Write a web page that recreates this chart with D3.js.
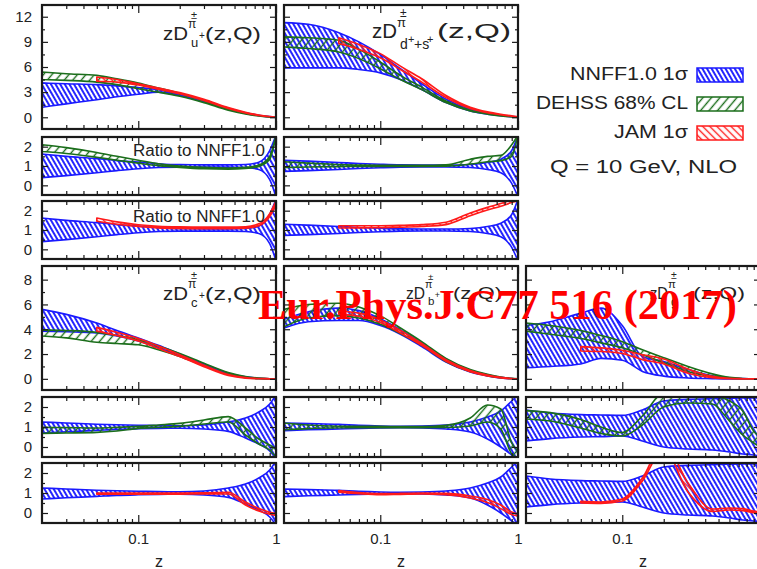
<!DOCTYPE html>
<html>
<head>
<meta charset="utf-8">
<script src="https://cdn.jsdelivr.net/npm/d3@7"></script>
<style>
  body { margin: 0; background: #fff; }
  svg { display: block; }
  text { font-family: "Liberation Sans", Arial, sans-serif; fill: #222; }
</style>
</head>
<body>
<svg id="chart" width="757" height="569"></svg>
<script>
// z grid shared by every band (JAM starts at z = 0.05, so null before)
const Z = [0.02, 0.03, 0.05, 0.07, 0.1, 0.14, 0.2, 0.3, 0.45, 0.6, 0.75, 0.9, 1.0];

// u+ : zD(z,Q)
const uNnffHi = [4.1, 4.0, 3.9, 3.75, 3.55, 3.3, 2.8, 2.05, 1.07, 0.55, 0.25, 0.08, 0];
const uNnffLo = [1.2, 1.6, 2.1, 2.45, 2.75, 3.0, 2.6, 1.85, 0.95, 0.45, 0.19, 0.04, 0];
const uDehssHi = [5.4, 5.2, 5.0, 4.6, 4.1, 3.5, 2.85, 2.0, 1.0, 0.5, 0.2, 0.05, 0];
const uDehssLo = [4.5, 4.4, 4.2, 3.9, 3.4, 3.0, 2.5, 1.75, 0.85, 0.4, 0.15, 0.02, 0];
const uJamHi = [null, null, 4.8, 4.5, 4.0, 3.5, 2.95, 2.15, 1.15, 0.6, 0.28, 0.1, 0.02];
const uJamLo = [null, null, 4.3, 4.2, 3.85, 3.35, 2.8, 2.0, 1.05, 0.52, 0.22, 0.06, 0];
// u+ ratios to NNFF1.0
const uRelHi = [1.62, 1.5, 1.38, 1.28, 1.2, 1.12, 1.07, 1.06, 1.06, 1.08, 1.2, 1.8, 2.6];
const uRelLo = [0.4, 0.5, 0.65, 0.76, 0.86, 0.92, 0.94, 0.94, 0.94, 0.92, 0.82, 0.3, -0.6];
const uDehssRelHi = [2.1, 1.95, 1.7, 1.5, 1.3, 1.12, 1.0, 0.93, 0.9, 0.93, 1.05, 1.5, 2.6];
const uDehssRelLo = [1.75, 1.65, 1.45, 1.3, 1.15, 1.02, 0.93, 0.86, 0.84, 0.87, 0.98, 1.35, 2.6];
const uJamRelHi = [null, null, 1.62, 1.42, 1.27, 1.19, 1.16, 1.15, 1.15, 1.17, 1.32, 1.85, 2.5];
const uJamRelLo = [null, null, 1.45, 1.3, 1.18, 1.11, 1.08, 1.07, 1.07, 1.09, 1.22, 1.7, 2.3];

// d+ + s+
const dsNnffHi = [11.3, 11.1, 10.1, 9.0, 7.5, 5.8, 4.0, 2.15, 0.95, 0.5, 0.25, 0.1, 0.03];
const dsNnffLo = [5.9, 5.9, 5.9, 5.7, 5.3, 4.5, 3.3, 1.75, 0.75, 0.38, 0.18, 0.06, 0.01];
const dsDehssHi = [9.6, 9.5, 9.2, 8.1, 6.6, 5.0, 3.6, 1.95, 0.85, 0.44, 0.2, 0.07, 0.02];
const dsDehssLo = [8.4, 8.2, 7.8, 7.0, 5.8, 4.5, 3.3, 1.75, 0.75, 0.38, 0.17, 0.05, 0.01];
const dsJamHi = [null, null, 9.5, 8.7, 7.6, 6.1, 4.6, 2.6, 1.2, 0.65, 0.36, 0.17, 0.06];
const dsJamLo = [null, null, 8.8, 8.1, 7.1, 5.7, 4.2, 2.35, 1.05, 0.55, 0.3, 0.13, 0.03];
const dsRelHi = [1.3, 1.25, 1.18, 1.13, 1.09, 1.06, 1.05, 1.05, 1.08, 1.18, 1.35, 1.8, 2.6];
const dsRelLo = [0.72, 0.76, 0.82, 0.87, 0.91, 0.94, 0.95, 0.95, 0.92, 0.82, 0.65, 0.1, -0.6];
const dsDehssRelHi = [1.22, 1.15, 1.08, 1.05, 1.04, 1.03, 1.03, 1.06, 1.35, 1.5, 1.55, 2.1, 2.6];
const dsDehssRelLo = [0.92, 0.95, 0.97, 0.98, 0.98, 0.98, 0.98, 0.99, 1.1, 1.22, 1.28, 1.5, 2.6];
const dsJamRelHi = [null, null, 1.22, 1.22, 1.22, 1.24, 1.28, 1.4, 1.88, 2.17, 2.37, 2.55, 2.6];
const dsJamRelLo = [null, null, 1.1, 1.11, 1.12, 1.14, 1.18, 1.28, 1.74, 2.03, 2.23, 2.42, 2.5];

// c+
const cNnffHi = [5.6, 5.2, 4.5, 3.9, 3.3, 2.7, 2.0, 1.2, 0.45, 0.16, 0.05, 0.01, 0];
const cNnffLo = [3.85, 3.8, 3.7, 3.45, 3.05, 2.5, 1.85, 1.08, 0.38, 0.12, 0.03, 0, 0];
const cDehssHi = [3.95, 3.9, 3.75, 3.5, 3.15, 2.65, 2.05, 1.25, 0.5, 0.18, 0.06, 0.01, 0];
const cDehssLo = [3.45, 3.3, 2.95, 2.85, 2.75, 2.35, 1.8, 1.05, 0.35, 0.1, 0.02, 0, 0];
const cJamHi = [null, null, 4.15, 3.75, 3.25, 2.65, 1.95, 1.1, 0.35, 0.1, 0.03, 0.01, 0];
const cJamLo = [null, null, 3.85, 3.5, 3.05, 2.45, 1.8, 0.98, 0.28, 0.06, 0.01, 0, 0];
const cRelHi = [1.25, 1.2, 1.14, 1.11, 1.09, 1.07, 1.06, 1.1, 1.25, 1.45, 1.75, 2.15, 2.6];
const cRelLo = [0.7, 0.76, 0.83, 0.88, 0.91, 0.93, 0.94, 0.9, 0.78, 0.45, 0.15, -0.2, -0.6];
const cDehssRelHi = [0.98, 0.97, 0.95, 0.98, 1.03, 1.1, 1.18, 1.35, 1.52, 0.95, 0.4, 0.1, -0.1];
const cDehssRelLo = [0.68, 0.7, 0.73, 0.8, 0.93, 0.98, 1.03, 1.15, 1.25, 0.6, 0.15, -0.15, -0.5];
const cJamRelHi = [null, null, 1.0, 1.0, 1.0, 1.0, 1.0, 1.01, 1.04, 0.55, 0.22, 0.04, -0.03];
const cJamRelLo = [null, null, 0.94, 0.94, 0.94, 0.94, 0.94, 0.95, 0.95, 0.4, 0.1, -0.06, -0.12];

// b+
const bNnffHi = [4.8, 5.4, 5.7, 5.5, 4.85, 3.95, 2.9, 1.6, 0.7, 0.33, 0.13, 0.03, 0];
const bNnffLo = [4.1, 4.6, 4.7, 4.7, 4.3, 3.6, 2.6, 1.35, 0.55, 0.24, 0.08, 0.01, 0];
const bDehssHi = [5.6, 6.0, 6.1, 5.8, 5.1, 4.1, 3.0, 1.65, 0.75, 0.36, 0.15, 0.04, 0];
const bDehssLo = [4.2, 4.9, 5.1, 4.9, 4.4, 3.65, 2.7, 1.4, 0.6, 0.26, 0.09, 0.01, 0];
const bJamHi = [null, null, 5.45, 5.3, 4.75, 3.9, 2.85, 1.55, 0.68, 0.3, 0.12, 0.03, 0];
const bJamLo = [null, null, 5.2, 5.05, 4.55, 3.7, 2.7, 1.42, 0.58, 0.24, 0.08, 0.01, 0];
const bRelHi = [1.2, 1.17, 1.13, 1.08, 1.05, 1.04, 1.05, 1.1, 1.25, 1.5, 1.8, 2.3, 2.6];
const bRelLo = [0.82, 0.86, 0.9, 0.93, 0.95, 0.96, 0.95, 0.9, 0.75, 0.4, 0.0, -0.4, -0.6];
const bDehssRelHi = [1.2, 1.1, 1.04, 1.03, 1.03, 1.02, 1.02, 1.08, 1.45, 2.1, 1.9, 0.2, -0.2];
const bDehssRelLo = [0.86, 0.92, 0.96, 0.97, 0.97, 0.97, 0.97, 0.98, 1.05, 1.25, 0.9, -0.35, -0.55];
const bJamRelHi = [null, null, 1.12, 1.02, 0.97, 0.98, 1.0, 0.98, 0.85, 0.68, 0.4, 0.05, -0.05];
const bJamRelLo = [null, null, 1.04, 0.96, 0.91, 0.93, 0.95, 0.92, 0.75, 0.52, 0.22, -0.08, -0.15];

// g
const gNnffHi = [4.3, 4.6, 5.3, 5.7, 4.3, 1.8, 1.4, 0.75, 0.25, 0.08, 0.02, 0, 0];
const gNnffLo = [0.9, 1.0, 1.2, 1.65, 1.5, 0.6, 0.22, 0.07, 0.02, 0, 0, 0, 0];
const gDehssHi = [4.5, 4.3, 3.9, 3.5, 3.0, 2.35, 1.7, 1.0, 0.4, 0.12, 0.03, 0, 0];
const gDehssLo = [3.85, 3.6, 3.25, 2.9, 2.5, 1.95, 1.3, 0.6, 0.2, 0.05, 0.01, 0, 0];
const gJamHi = [null, null, 2.6, 2.5, 2.3, 1.95, 1.6, 0.8, 0.2, 0.04, 0.01, 0, 0];
const gJamLo = [null, null, 2.25, 2.2, 2.05, 1.55, 1.2, 0.45, 0.1, 0.01, 0, 0, 0];
const gRelHi = [1.85, 1.7, 1.62, 1.6, 1.58, 1.85, 2.3, 2.38, 2.42, 2.44, 2.45, 2.45, 2.45];
const gRelLo = [0.3, 0.42, 0.5, 0.52, 0.55, 0.3, 0.0, -0.1, -0.15, -0.25, -0.35, -0.4, -0.45];
const gDehssRelHi = [1.82, 1.72, 1.38, 1.0, 0.72, 1.55, 2.7, 2.7, 2.6, 2.3, 1.8, 0.8, 0.5];
const gDehssRelLo = [1.4, 1.3, 0.95, 0.68, 0.55, 1.1, 2.0, 2.2, 2.15, 1.3, 0.6, 0.2, 0.0];
const gJamRelHi = [null, null, 0.58, 0.55, 0.7, 1.75, 3.5, 1.5, 0.2, 0.25, 0.22, 0.1, 0.05];
const gJamRelLo = [null, null, 0.5, 0.48, 0.6, 1.6, 3.2, 1.05, 0.08, 0.15, 0.12, 0.02, 0];

const legendLabels = ['NNFF1.0 1σ', 'DEHSS 68% CL', 'JAM 1σ'];
const infoLabel = 'Q = 10 GeV, NLO';
const ratioLabel = 'Ratio to NNFF1.0';
const watermark = 'Eur.Phys.J.C77 516 (2017)';

const xMajor = [0.1, 1];
const xMinor = [0.03, 0.04, 0.05, 0.06, 0.07, 0.08, 0.09, 0.2, 0.3, 0.4, 0.5, 0.6, 0.7, 0.8, 0.9];

// ---- layout ----
const W = 757;
const COLS = [[42, 276], [284, 518], [526, 760]];
const ROWS = { A: [5, 129], B: [137, 195], C: [201, 259], D: [266, 390], E: [397, 457], F: [463, 523] };
const YSPEC = {
  big: { domain: [-1.4, 13.4], major: [0, 3, 6, 9, 12], minor: [1.5, 4.5, 7.5, 10.5] },
  mid: { domain: [-0.9, 9.1], major: [0, 2, 4, 6, 8], minor: [1, 3, 5, 7] },
  ratio: { domain: [-0.5, 2.5], major: [0, 1, 2], minor: [0.5, 1.5] },
};

const INK = '#1a1a1a';
const STYLE = {
  nnff: { color: '#1a1aff', pat: 'hBlue' },
  dehss: { color: '#1b6e1b', pat: 'hGreen' },
  jam: { color: '#ff1a1a', pat: 'hRed' },
};

const svg = d3.select('#chart');
const defs = svg.append('defs');

function hatch(id, color, spacing, width, angle) {
  const p = defs.append('pattern')
    .attr('id', id)
    .attr('patternUnits', 'userSpaceOnUse')
    .attr('width', spacing)
    .attr('height', 10)
    .attr('patternTransform', `rotate(${angle})`);
  p.append('line')
    .attr('x1', spacing / 2).attr('x2', spacing / 2)
    .attr('y1', -1).attr('y2', 11)
    .attr('stroke', color)
    .attr('stroke-width', width);
}
hatch('hBlue', STYLE.nnff.color, 4, 1.9, -30);
hatch('hGreen', STYLE.dehss.color, 6.5, 1.4, 40);
hatch('hRed', STYLE.jam.color, 5, 1.4, -45);

const panels = [
  { col: 0, row: 'A', y: 'big', bands: [[uNnffLo, uNnffHi, 'nnff'], [uDehssLo, uDehssHi, 'dehss'], [uJamLo, uJamHi, 'jam']] },
  { col: 0, row: 'B', y: 'ratio', bands: [[uRelLo, uRelHi, 'nnff'], [uDehssRelLo, uDehssRelHi, 'dehss']] },
  { col: 0, row: 'C', y: 'ratio', bands: [[uRelLo, uRelHi, 'nnff'], [uJamRelLo, uJamRelHi, 'jam']] },
  { col: 1, row: 'A', y: 'big', bands: [[dsNnffLo, dsNnffHi, 'nnff'], [dsDehssLo, dsDehssHi, 'dehss'], [dsJamLo, dsJamHi, 'jam']] },
  { col: 1, row: 'B', y: 'ratio', bands: [[dsRelLo, dsRelHi, 'nnff'], [dsDehssRelLo, dsDehssRelHi, 'dehss']] },
  { col: 1, row: 'C', y: 'ratio', bands: [[dsRelLo, dsRelHi, 'nnff'], [dsJamRelLo, dsJamRelHi, 'jam']] },
  { col: 0, row: 'D', y: 'mid', bands: [[cNnffLo, cNnffHi, 'nnff'], [cDehssLo, cDehssHi, 'dehss'], [cJamLo, cJamHi, 'jam']] },
  { col: 0, row: 'E', y: 'ratio', bands: [[cRelLo, cRelHi, 'nnff'], [cDehssRelLo, cDehssRelHi, 'dehss']] },
  { col: 0, row: 'F', y: 'ratio', bands: [[cRelLo, cRelHi, 'nnff'], [cJamRelLo, cJamRelHi, 'jam']] },
  { col: 1, row: 'D', y: 'mid', bands: [[bNnffLo, bNnffHi, 'nnff'], [bDehssLo, bDehssHi, 'dehss'], [bJamLo, bJamHi, 'jam']] },
  { col: 1, row: 'E', y: 'ratio', bands: [[bRelLo, bRelHi, 'nnff'], [bDehssRelLo, bDehssRelHi, 'dehss']] },
  { col: 1, row: 'F', y: 'ratio', bands: [[bRelLo, bRelHi, 'nnff'], [bJamRelLo, bJamRelHi, 'jam']] },
  { col: 2, row: 'D', y: 'mid', bands: [[gNnffLo, gNnffHi, 'nnff'], [gDehssLo, gDehssHi, 'dehss'], [gJamLo, gJamHi, 'jam']] },
  { col: 2, row: 'E', y: 'ratio', bands: [[gRelLo, gRelHi, 'nnff'], [gDehssRelLo, gDehssRelHi, 'dehss']] },
  { col: 2, row: 'F', y: 'ratio', bands: [[gRelLo, gRelHi, 'nnff'], [gJamRelLo, gJamRelHi, 'jam']] },
];

function styleAxis(sel) {
  sel.selectAll('.domain').remove();
  sel.selectAll('line').attr('stroke', INK).attr('stroke-width', 1.2);
  sel.selectAll('text')
    .attr('font-size', 15)
    .attr('fill', '#222');
}

function drawPanel(p) {
  const [x0, x1] = COLS[p.col];
  const [y0, y1] = ROWS[p.row];
  const ys = YSPEC[p.y];
  const x = d3.scaleLog().domain([0.02, 1]).range([x0, x1]);
  const y = d3.scaleLinear().domain(ys.domain).range([y1, y0]);

  const clipId = `clip-${p.col}-${p.row}`;
  defs.append('clipPath').attr('id', clipId)
    .append('rect').attr('x', x0).attr('y', y0).attr('width', x1 - x0).attr('height', y1 - y0);

  const g = svg.append('g');
  const plot = g.append('g').attr('clip-path', `url(#${clipId})`);

  p.bands.forEach(([lo, hi, key]) => {
    const pts = Z.map((z, i) => ({ z, lo: lo[i], hi: hi[i] }));
    const area = d3.area()
      .defined((d) => d.lo != null && d.hi != null)
      .x((d) => x(d.z))
      .y0((d) => y(d.lo))
      .y1((d) => y(d.hi))
      .curve(d3.curveMonotoneX);
    plot.append('path')
      .attr('d', area(pts))
      .attr('fill', `url(#${STYLE[key].pat})`)
      .attr('stroke', STYLE[key].color)
      .attr('stroke-width', 1.6)
      .attr('stroke-linejoin', 'round');
  });

  const xLabel = (d) => (x(d) > W - 4 ? '' : d === 1 ? '1' : '0.1');
  const bottomRow = p.row === 'F';

  // x ticks, inward on bottom and top
  g.append('g').attr('transform', `translate(0,${y1})`)
    .call(d3.axisBottom(x).tickValues(xMinor).tickSize(-4).tickFormat(''));
  g.append('g').attr('transform', `translate(0,${y1})`)
    .call(d3.axisBottom(x).tickValues(xMajor).tickSize(-8).tickPadding(10)
      .tickFormat(bottomRow ? xLabel : () => ''));
  g.append('g').attr('transform', `translate(0,${y0})`)
    .call(d3.axisTop(x).tickValues(xMinor).tickSize(-4).tickFormat(''));
  g.append('g').attr('transform', `translate(0,${y0})`)
    .call(d3.axisTop(x).tickValues(xMajor).tickSize(-8).tickFormat(''));

  // y ticks, inward on left and right
  g.append('g').attr('transform', `translate(${x0},0)`)
    .call(d3.axisLeft(y).tickValues(ys.major).tickSize(-6).tickPadding(10)
      .tickFormat(p.col === 0 ? d3.format('d') : () => ''));
  g.append('g').attr('transform', `translate(${x0},0)`)
    .call(d3.axisLeft(y).tickValues(ys.minor).tickSize(-3).tickFormat(''));
  g.append('g').attr('transform', `translate(${x1},0)`)
    .call(d3.axisRight(y).tickValues(ys.major).tickSize(-6).tickFormat(''));
  g.append('g').attr('transform', `translate(${x1},0)`)
    .call(d3.axisRight(y).tickValues(ys.minor).tickSize(-3).tickFormat(''));

  g.selectAll('g').call(styleAxis);

  g.append('rect')
    .attr('x', x0).attr('y', y0)
    .attr('width', x1 - x0).attr('height', y1 - y0)
    .attr('fill', 'none')
    .attr('stroke', INK)
    .attr('stroke-width', 2.2);
}

panels.forEach(drawPanel);

// axis titles "z"
COLS.forEach(([a, b]) => {
  svg.append('text')
    .attr('x', (a + Math.min(b, 760)) / 2).attr('y', 567)
    .attr('text-anchor', 'middle').attr('font-size', 16)
    .text('z');
});

// panel titles
function title(x, y, parts) {
  parts.forEach((pt) => {
    const t = svg.append('text')
      .attr('x', x + pt.dx).attr('y', y + pt.dy)
      .attr('font-size', pt.fs)
      .text(pt.t);
    if (pt.w) t.attr('textLength', pt.w).attr('lengthAdjust', 'spacingAndGlyphs');
  });
}
function simpleTitle(x, y, fs, zdW, sub, zqX, zqW, plus) {
  const s = fs / 18;
  const parts = [
    { t: 'zD', dx: 0, dy: 0, fs, w: zdW },
    { t: 'π', dx: zdW, dy: -12 * s, fs: 12 * s },
    { t: '±', dx: zdW + 3, dy: -21 * s, fs: 11 * s },
    { t: sub, dx: zdW + 3, dy: 7 * s, fs: 13 * s },
  ];
  if (plus) parts.push({ t: '+', dx: zdW + 11 * s, dy: -1 * s, fs: 10 * s });
  parts.push({ t: '(z,Q)', dx: zqX - x, dy: 0, fs, w: zqW });
  title(x, y, parts);
}
simpleTitle(163, 40, 18, 25, 'u', 205, 56, true);
title(372, 38, [
  { t: 'zD', dx: 0, dy: 0, fs: 20, w: 25 },
  { t: 'π', dx: 25, dy: -11, fs: 13 },
  { t: '±', dx: 28, dy: -21, fs: 12 },
  { t: 'd', dx: 28, dy: 11, fs: 14 },
  { t: '+', dx: 36, dy: 5, fs: 11 },
  { t: '+s', dx: 42, dy: 11, fs: 14 },
  { t: '+', dx: 55, dy: 5, fs: 11 },
  { t: '(z,Q)', dx: 65, dy: 0, fs: 20, w: 74 },
]);
simpleTitle(163, 300, 18, 25, 'c', 205, 56, true);
simpleTitle(406, 299, 16, 19, 'b', 453, 49, true);
simpleTitle(650, 299, 17, 18, 'g', 693, 52, false);

// ratio labels
[156, 222].forEach((yy) => {
  svg.append('text').attr('x', 133).attr('y', yy).attr('font-size', 16)
    .attr('textLength', 132).attr('lengthAdjust', 'spacingAndGlyphs')
    .text(ratioLabel);
});

// legend
const legendKeys = ['nnff', 'dehss', 'jam'];
const legendY = [68, 97, 126];
const legendW = [118, 152, 74];
legendKeys.forEach((k, i) => {
  svg.append('text')
    .attr('x', 688).attr('y', legendY[i] + 12)
    .attr('text-anchor', 'end').attr('font-size', 18)
    .attr('textLength', legendW[i]).attr('lengthAdjust', 'spacingAndGlyphs')
    .text(legendLabels[i]);
  svg.append('rect')
    .attr('x', 697).attr('y', legendY[i])
    .attr('width', 46).attr('height', 14)
    .attr('fill', `url(#${STYLE[k].pat})`)
    .attr('stroke', STYLE[k].color)
    .attr('stroke-width', 1.5);
});
svg.append('text')
  .attr('x', 550).attr('y', 173).attr('font-size', 18)
  .attr('textLength', 187).attr('lengthAdjust', 'spacingAndGlyphs')
  .text(infoLabel);

// journal stamp
svg.append('text')
  .attr('x', 258).attr('y', 319)
  .style('font-family', '"Liberation Serif", "Times New Roman", serif')
  .style('font-weight', 'bold')
  .attr('font-size', 42)
  .attr('textLength', 479).attr('lengthAdjust', 'spacingAndGlyphs')
  .style('fill', '#ff0000')
  .text(watermark);
</script>
</body>
</html>
